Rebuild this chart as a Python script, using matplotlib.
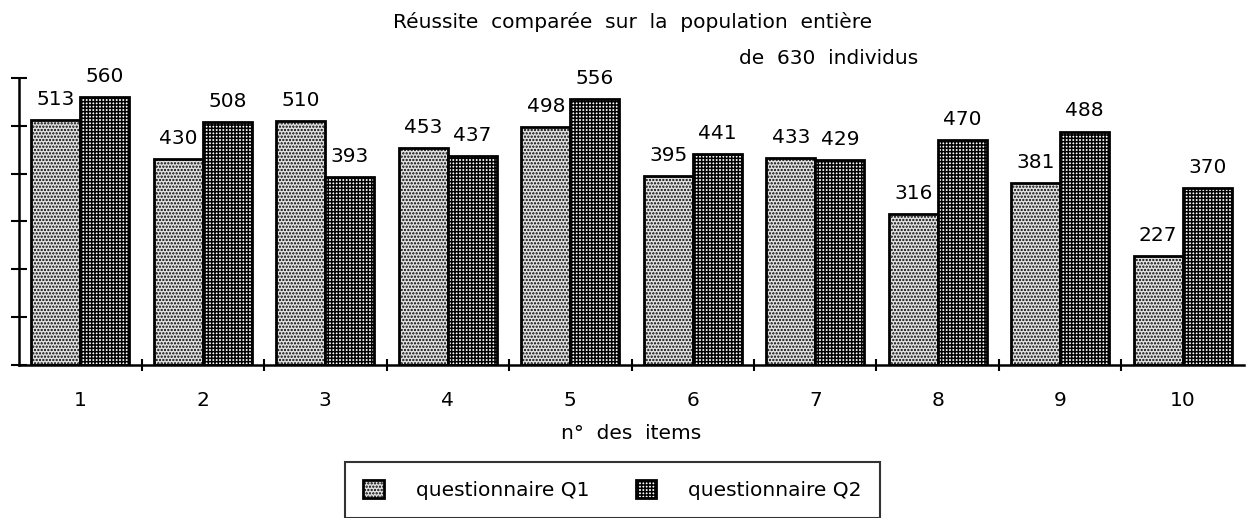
import matplotlib as mpl
import matplotlib.pyplot as plt
import numpy as np

# the original text is quite loosely spaced, DejaVu is the widest sans we have
mpl.rcParams['font.family'] = ['DejaVu Sans']
mpl.rcParams['hatch.linewidth'] = 1.1

# data
items = ['1', '2', '3', '4', '5', '6', '7', '8', '9', '10']
q1 = [513, 430, 510, 453, 498, 395, 433, 316, 381, 227]
q2 = [560, 508, 393, 437, 556, 441, 429, 470, 488, 370]
q1_name = 'questionnaire Q1'
q2_name = 'questionnaire Q2'

fs = 14.5

fig = plt.figure(figsize=(12.53, 5.18), dpi=100)
ax = fig.add_axes([0.0152, 0.2954, 0.9776, 0.554])

x = np.arange(1, len(items) + 1)
w = 0.4

b1 = ax.bar(x - w / 2, q1, width=w, facecolor='#e2e2e2', edgecolor='black',
            hatch='.....', linewidth=2, label=q1_name)
b2 = ax.bar(x + w / 2, q2, width=w, facecolor='white', edgecolor='black',
            hatch='+++++', linewidth=2, label=q2_name)

for bars, vals in [(b1, q1), (b2, q2)]:
    for r, v in zip(bars, vals):
        ax.annotate(str(v), (r.get_x() + r.get_width() / 2, v),
                    xytext=(0, 8), textcoords='offset points',
                    ha='center', va='bottom', fontsize=fs, annotation_clip=False)

ax.set_xlim(0.5, 10.5)
ax.set_ylim(0, 600)
ax.set_yticks(np.arange(0, 601, 100))
ax.set_yticklabels([])
ax.tick_params(axis='y', direction='inout', length=12, width=1.5)
ax.set_xticks(x)
ax.set_xticklabels(items, fontsize=fs)
ax.tick_params(axis='x', length=0, pad=19)
ax.set_xticks(np.arange(1.5, 10.5, 1), minor=True)
ax.tick_params(axis='x', which='minor', direction='inout', length=8, width=1.5)

for s in ['top', 'right']:
    ax.spines[s].set_visible(False)
ax.spines['left'].set_linewidth(1.8)
ax.spines['bottom'].set_linewidth(1.8)

ax.set_xlabel('n\u00b0  des  items', fontsize=fs, labelpad=10)

fig.text(0.505, 0.957, 'Réussite  comparée  sur  la  population  entière',
         ha='center', va='center', fontsize=fs)
fig.text(0.661, 0.888, 'de  630  individus', ha='center', va='center',
         fontsize=fs)

leg = fig.legend(handles=[b1, b2], loc='upper center',
                 bbox_to_anchor=(0.4888, 0.108), ncol=2, fontsize=fs,
                 fancybox=False, frameon=True, edgecolor='black',
                 handlelength=1.0, handleheight=1.0, handletextpad=1.6,
                 columnspacing=2.3, borderpad=0.9, borderaxespad=0)
leg.get_frame().set_linewidth(1.5)

fig.savefig('out.png', dpi=100)
